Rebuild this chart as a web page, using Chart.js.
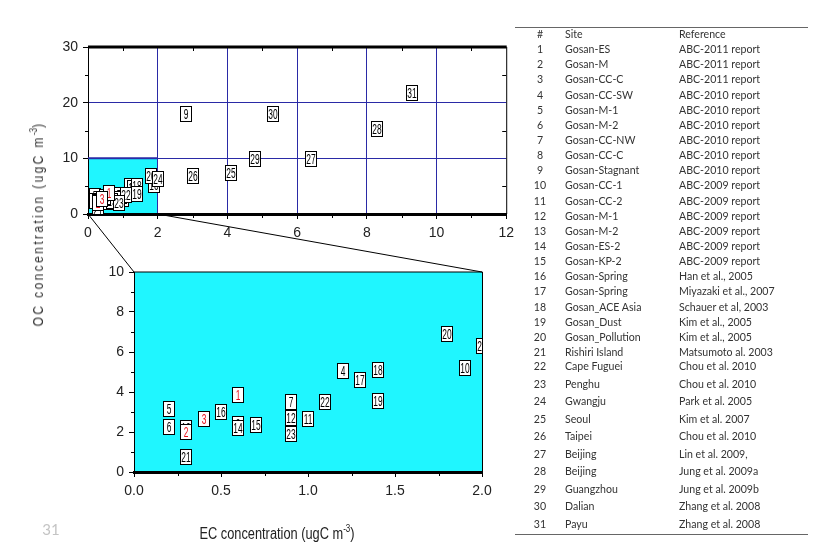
<!DOCTYPE html>
<html>
<head>
<meta charset="utf-8">
<script src="https://cdn.jsdelivr.net/npm/chart.js@4.4.0/dist/chart.umd.min.js"></script>
<style>
  body { margin: 0; background: #fff; width: 826px; height: 553px; position: relative; overflow: hidden; }
  canvas { position: absolute; left: 0; }
  .axisTitle { position: absolute; white-space: nowrap; font-family: 'Liberation Sans', Arial, sans-serif; color: #222; }
  #ytitle { left: 37px; top: 224px; font-size: 15px; letter-spacing: 3px; color: #333;
            transform: translate(-50%, -50%) rotate(-90deg) scaleX(0.8); }
  #xtitle { left: 277px; top: 533px; font-size: 16px; transform: translate(-50%, -50%) scaleX(0.8); }
  sup { font-size: 10px; letter-spacing: 0; }
  #slideNo { position: absolute; left: 51px; top: 529px; transform: translate(-50%, -50%); font: 15px Lato, sans-serif; color: #c4c4c4; }
  .rule { position: absolute; left: 515px; width: 293px; height: 0; border-top: 1.5px solid #666; }
  .cell { position: absolute; font: 10.6px Lato, 'Open Sans', sans-serif; color: #333; white-space: nowrap; line-height: 14px; }
</style>
</head>
<body>
<canvas id="overview" width="520" height="245" style="top:0"></canvas>
<canvas id="detail" width="520" height="303" style="top:250px"></canvas>
<canvas id="links" width="520" height="553" style="top:0; pointer-events:none"></canvas>
<div id="ytitle" class="axisTitle">OC concentration (ugC m<sup>-3</sup>)</div>
<div id="xtitle" class="axisTitle">EC concentration (ugC m<sup>-3</sup>)</div>
<div id="slideNo">31</div>
<div class="rule" style="top:27px"></div>
<div class="rule" style="top:534px"></div>
<div id="table"></div>
<script>
// site numbers with EC / OC concentrations (ugC m-3)
const siteNo = [1, 2, 3, 4, 5, 6, 7, 8, 9, 10, 11, 12, 13, 14, 15, 16, 17, 18, 19, 20, 21, 22, 23, 24, 25, 26, 27, 28, 29, 30, 31];
const ecConc = [0.6, 0.3, 0.4, 1.2, 0.2, 0.2, 0.9, 0.6, 2.8, 1.9, 1.0, 0.9, 0.3, 0.6, 0.7, 0.5, 1.3, 1.4, 1.4, 1.8, 0.3, 1.1, 0.9, 2.0, 4.1, 3.0, 6.4, 8.3, 4.8, 5.3, 9.3];
const ocConc = [3.85, 2.0, 2.65, 5.07, 3.17, 2.25, 3.5, 2.4, 17.9, 5.2, 2.67, 2.7, 2.2, 2.2, 2.37, 3.0, 4.6, 5.1, 3.57, 6.9, 0.75, 3.5, 1.92, 6.3, 7.3, 6.8, 9.9, 15.2, 9.8, 17.9, 21.8];
const redSites = [1, 2, 3];

const siteNames = ['Gosan-ES', 'Gosan-M', 'Gosan-CC-C', 'Gosan-CC-SW', 'Gosan-M-1', 'Gosan-M-2', 'Gosan-CC-NW', 'Gosan-CC-C',
  'Gosan-Stagnant', 'Gosan-CC-1', 'Gosan-CC-2', 'Gosan-M-1', 'Gosan-M-2', 'Gosan-ES-2', 'Gosan-KP-2', 'Gosan-Spring',
  'Gosan-Spring', 'Gosan_ACE Asia', 'Gosan_Dust', 'Gosan_Pollution', 'Rishiri Island', 'Cape Fuguei', 'Penghu', 'Gwangju',
  'Seoul', 'Taipei', 'Beijing', 'Beijing', 'Guangzhou', 'Dalian', 'Payu'];
const references = ['ABC-2011 report', 'ABC-2011 report', 'ABC-2011 report', 'ABC-2010 report', 'ABC-2010 report',
  'ABC-2010 report', 'ABC-2010 report', 'ABC-2010 report', 'ABC-2010 report', 'ABC-2009 report', 'ABC-2009 report',
  'ABC-2009 report', 'ABC-2009 report', 'ABC-2009 report', 'ABC-2009 report', 'Han et al., 2005', 'Miyazaki et al., 2007',
  'Schauer et al, 2003', 'Kim et al., 2005', 'Kim et al., 2005', 'Matsumoto al. 2003', 'Chou et al. 2010', 'Chou et al. 2010',
  'Park et al. 2005', 'Kim et al. 2007', 'Chou et al. 2010', 'Lin et al. 2009,', 'Jung et al. 2009a', 'Jung et al. 2009b',
  'Zhang et al. 2008', 'Zhang et al. 2008'];

const overviewTicksX = [0, 2, 4, 6, 8, 10, 12];
const overviewTicksY = [0, 10, 20, 30];
const detailTicksX = [0, 0.5, 1.0, 1.5, 2.0];
const detailTicksY = [0, 2, 4, 6, 8, 10];

const LABEL_FONT = "'Liberation Sans', Arial, sans-serif";
const NAVY = '#2a2aa6';
const CYAN = '#1ff6ff';

function points(red) {
  return siteNo.map((n, i) => ({ x: ecConc[i], y: ocConc[i], n }))
    .filter(p => redSites.includes(p.n) === red);
}

// white boxes with the site number, centred on each point
const numberedBoxes = {
  id: 'numberedBoxes',
  afterDatasetsDraw(chart) {
    const { ctx, chartArea: a } = chart;
    ctx.save();
    ctx.beginPath();
    ctx.rect(a.left, a.top, a.right - a.left, a.bottom - a.top);
    ctx.clip();
    chart.data.datasets.forEach((ds, di) => {
      chart.getDatasetMeta(di).data.forEach((pt, i) => {
        const x = Math.round(pt.x), y = Math.round(pt.y);
        ctx.fillStyle = '#fff';
        ctx.fillRect(x - 6, y - 8, 12, 16);
        ctx.strokeStyle = '#000';
        ctx.lineWidth = 1;
        ctx.strokeRect(x - 5.5, y - 7.5, 11, 15);
        ctx.save();
        ctx.translate(x, y + 1);
        ctx.scale(0.6, 1);
        ctx.fillStyle = ds.labelColor;
        ctx.font = '14px ' + LABEL_FONT;
        ctx.textAlign = 'center';
        ctx.textBaseline = 'middle';
        ctx.fillText(String(ds.data[i].n), 0, 0);
        ctx.restore();
      });
    });
    ctx.restore();
  }
};

// cyan zoom region, top/right frame lines and minor ticks
const frame = {
  id: 'frame',
  beforeDraw(chart, args, o) {
    const { ctx, scales: { x, y } } = chart;
    const l = x.getPixelForValue(o.cyan[0]), r = x.getPixelForValue(o.cyan[1]);
    const t = y.getPixelForValue(o.cyan[3]), b = y.getPixelForValue(o.cyan[2]);
    ctx.save();
    ctx.fillStyle = CYAN;
    ctx.fillRect(l, t, r - l, b - t);
    ctx.restore();
  },
  beforeDatasetsDraw(chart, args, o) {
    if (!o.edge) return;
    const { ctx, scales: { x, y } } = chart;
    ctx.save();
    ctx.strokeStyle = NAVY;
    ctx.lineWidth = 2;
    ctx.beginPath();
    ctx.moveTo(x.getPixelForValue(o.cyan[0]), y.getPixelForValue(o.cyan[3]));
    ctx.lineTo(x.getPixelForValue(o.cyan[1]), y.getPixelForValue(o.cyan[3]));
    ctx.stroke();
    ctx.restore();
  },
  afterDraw(chart, args, o) {
    const { ctx, chartArea: a, scales: { x, y } } = chart;
    ctx.save();
    ctx.strokeStyle = '#000';
    ctx.lineWidth = o.topWidth;
    ctx.beginPath();
    ctx.moveTo(a.left, a.top);
    ctx.lineTo(a.right + 0.5, a.top);
    ctx.stroke();
    ctx.lineWidth = 1;
    ctx.beginPath();
    ctx.moveTo(a.right + 0.5, a.top);
    ctx.lineTo(a.right + 0.5, a.bottom);
    ctx.stroke();
    ctx.beginPath();
    for (let v = x.min + o.minorX; v < x.max; v += 2 * o.minorX) {
      const px = Math.round(x.getPixelForValue(v)) + 0.5;
      ctx.moveTo(px, a.bottom);
      ctx.lineTo(px, a.bottom + 4);
      if (o.inner) { ctx.moveTo(px, a.top); ctx.lineTo(px, a.top + 4); }
    }
    for (let v = y.min + o.minorY; v < y.max; v += 2 * o.minorY) {
      const py = Math.round(y.getPixelForValue(v)) + 0.5;
      ctx.moveTo(a.left, py);
      ctx.lineTo(a.left - 3, py);
      if (o.inner) { ctx.moveTo(a.right, py); ctx.lineTo(a.right - 4, py); }
    }
    ctx.stroke();
    ctx.restore();
  }
};

function makeChart(id, cfg) {
  return new Chart(document.getElementById(id), {
    type: 'scatter',
    data: {
      datasets: [
        { data: points(false), labelColor: '#000', pointRadius: 0, pointHoverRadius: 0 },
        { data: points(true), labelColor: '#e8101a', pointRadius: 0, pointHoverRadius: 0 }
      ]
    },
    options: {
      responsive: false,
      animation: false,
      events: [],
      layout: { padding: cfg.padding },
      plugins: { legend: { display: false }, tooltip: { enabled: false }, frame: cfg.frame },
      scales: {
        x: {
          type: 'linear', min: cfg.xTicks[0], max: cfg.xTicks[cfg.xTicks.length - 1],
          afterBuildTicks: s => { s.ticks = cfg.xTicks.map(v => ({ value: v })); },
          afterFit: s => { s.height = cfg.xHeight; },
          ticks: { color: '#222', padding: 6, font: { family: LABEL_FONT, size: 14 }, maxRotation: 0, callback: cfg.xFormat },
          grid: {
            drawOnChartArea: cfg.grid, tickLength: 5, tickColor: '#000', lineWidth: 1,
            color: c => (c.tick && c.tick.value > cfg.xTicks[0] && c.tick.value < cfg.xTicks[cfg.xTicks.length - 1]) ? NAVY : 'rgba(0,0,0,0)'
          },
          border: { color: '#000', width: 3 }
        },
        y: {
          type: 'linear', min: cfg.yTicks[0], max: cfg.yTicks[cfg.yTicks.length - 1],
          afterBuildTicks: s => { s.ticks = cfg.yTicks.map(v => ({ value: v })); },
          afterFit: s => { s.width = cfg.yWidth; },
          ticks: { color: '#222', padding: 5, font: { family: LABEL_FONT, size: 14 } },
          grid: {
            drawOnChartArea: cfg.grid, tickLength: 5, tickColor: '#000', lineWidth: 1,
            color: c => (c.tick && c.tick.value > cfg.yTicks[0] && c.tick.value < cfg.yTicks[cfg.yTicks.length - 1]) ? NAVY : 'rgba(0,0,0,0)'
          },
          border: { color: '#000', width: 1 }
        }
      }
    },
    plugins: [frame, numberedBoxes]
  });
}

const overview = makeChart('overview', {
  padding: { top: 47, left: 0, right: 13, bottom: 0 },
  xHeight: 31, yWidth: 88,
  xTicks: overviewTicksX, yTicks: overviewTicksY, grid: true,
  xFormat: v => String(v),
  frame: { cyan: [0, 2, 0, 10], edge: true, topWidth: 3, minorX: 1, minorY: 5, inner: true }
});

const detail = makeChart('detail', {
  padding: { top: 22, left: 0, right: 38, bottom: 0 },
  xHeight: 81, yWidth: 134,
  xTicks: detailTicksX, yTicks: detailTicksY, grid: false,
  xFormat: v => Number(v).toFixed(1),
  frame: { cyan: [0, 2, 0, 10], edge: false, topWidth: 1, minorX: 0.25, minorY: 1, inner: false }
});

// lines joining the zoomed region to the detail plot
(function () {
  const ctx = document.getElementById('links').getContext('2d');
  const ox = overview.scales.x, oy = overview.scales.y, dx = detail.scales.x, dy = detail.scales.y;
  const dTop = 250;
  ctx.strokeStyle = '#000';
  ctx.lineWidth = 1;
  ctx.beginPath();
  ctx.moveTo(ox.getPixelForValue(0), oy.getPixelForValue(0));
  ctx.lineTo(dx.getPixelForValue(0), dy.getPixelForValue(10) + dTop);
  ctx.moveTo(ox.getPixelForValue(2), oy.getPixelForValue(0));
  ctx.lineTo(dx.getPixelForValue(2), dy.getPixelForValue(10) + dTop);
  ctx.stroke();
})();

// site table
(function () {
  const table = document.getElementById('table');
  function cell(text, left, top, center) {
    const d = document.createElement('div');
    d.className = 'cell';
    d.textContent = text;
    d.style.top = (top - 7) + 'px';
    if (center) { d.style.left = (left - 20) + 'px'; d.style.width = '40px'; d.style.textAlign = 'center'; }
    else d.style.left = left + 'px';
    table.appendChild(d);
  }
  const rowY = i => (i <= 21 ? 34 + i * 15.14 : 366 + (i - 22) * 17.5);
  cell('#', 540, rowY(0), true);
  cell('Site', 565, rowY(0));
  cell('Reference', 679, rowY(0));
  siteNo.forEach((n, i) => {
    cell(String(n), 540, rowY(n), true);
    cell(siteNames[i], 565, rowY(n));
    cell(references[i], 679, rowY(n));
  });
})();
</script>
</body>
</html>
